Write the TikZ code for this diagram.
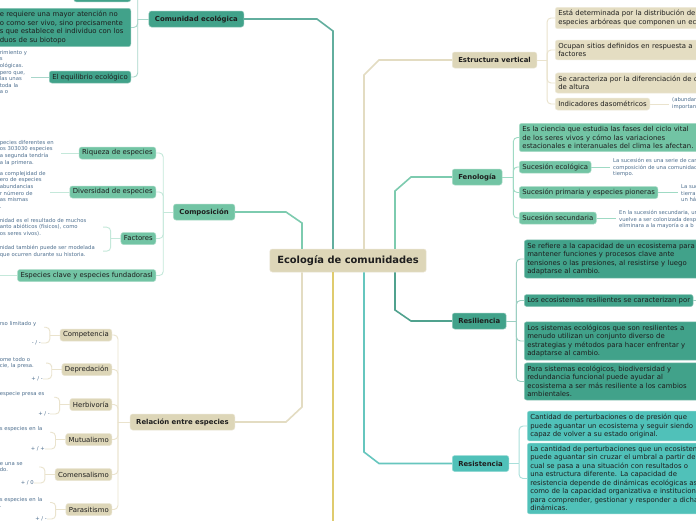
\documentclass[tikz,border=0pt]{standalone}
\usepackage{fontspec}
\setmainfont{DejaVu Sans}
\definecolor{beige}{HTML}{DDD6B8}
\definecolor{beigelt}{HTML}{E4DDC2}
\definecolor{tealdk}{HTML}{41A28A}
\definecolor{tealmd}{HTML}{72C4A4}
\definecolor{turq}{HTML}{50C1B9}
\definecolor{ink}{HTML}{1E1E1E}
\definecolor{noteink}{HTML}{4E6F8F}
\definecolor{lnbeige}{HTML}{E3DCC2}
\definecolor{lnteal}{HTML}{62AE9E}
\definecolor{lnmint}{HTML}{7DCBAF}
\definecolor{lndark}{HTML}{50A28E}
\definecolor{lnturq}{HTML}{66C6BE}
\definecolor{lnyellow}{HTML}{DFCB6E}
\definecolor{subteal}{HTML}{A8D6CA}
\definecolor{submint}{HTML}{C4E8DA}
\definecolor{subfen}{HTML}{9FDAC4}
\definecolor{subbeige}{HTML}{EAE3CD}
\definecolor{subdark}{HTML}{9CCFC2}
\definecolor{subturq}{HTML}{A9E0DB}

\begin{document}
\begin{tikzpicture}[x=1pt, y=-1pt,
    tone/.style={fill=#1, draw=#1!60!white, line width=0.5pt},
    box/.style={rounded corners=2.5pt, inner xsep=3pt, inner ysep=0pt, minimum height=12pt, text=ink, font=\fontsize{6.9}{8.5}\selectfont},
    topic/.style={box, inner xsep=6pt, minimum height=16pt, font=\fontsize{6.9}{8.5}\selectfont\bfseries},
    root/.style={topic, minimum height=23pt, inner xsep=7.5pt, font=\fontsize{9.9}{12}\selectfont\bfseries},
    para/.style={box, align=left, inner ysep=3pt, text width=#1},
    note/.style={inner sep=0pt, align=left, text=noteink, font=\fontsize{5.3}{6.6}\selectfont},
    rnote/.style={note, inner xsep=3pt},
    main/.style={line width=1.6pt},
    sub/.style={line width=0.9pt, rounded corners=4pt}]
    \useasboundingbox (0,0) rectangle (696,520);
    \fill[white] (0,0) rectangle (696,520);
    \clip (0,0) rectangle (696,520);

    \node[root, tone=beige] (cen) at (348,260.5) {Ecología de comunidades};

    \node[topic, tone=tealdk, anchor=east] (com) at (244,19) {Comunidad ecológica};
    \node[box, tone=tealdk, anchor=south east, minimum width=57pt] (comtop) at (131,2) {};
    \node[para=128pt, tone=tealdk, anchor=north east] (comdef) at (131,8) {e requiere una mayor atención no\\o como ser vivo, sino precisamente\\s que establece el individuo con los\\duos de su biotopo};
    \node[box, tone=tealdk, anchor=east] (equi) at (131,77) {El equilibrio ecológico};
    \node[note, anchor=north east, text width=31pt] (equin) at (31,50) {rimiento y\\s\\ológicas.\\pero que,\\las unas\\toda la\\a o};

    \node[topic, tone=tealmd, anchor=east] (comp) at (235,212) {Composición};
    \node[box, tone=tealmd, anchor=east] (riq) at (156,153) {Riqueza de especies};
    \node[note, anchor=north east, text width=61pt] (riqn) at (61,140) {pecies diferentes en\\os 303030 especies\\a segunda tendría\\a la primera.};
    \node[box, tone=tealmd, anchor=east] (div) at (156,192) {Diversidad de especies};
    \node[note, anchor=north east, text width=50pt] (divn) at (50,171) {a complejidad de\\ero de especies\\abundancias\\r número de\\as mismas\\.};
    \node[box, tone=tealmd, anchor=east] (fac) at (156,238.5) {Factores};
    \node[note, anchor=north east, text width=103pt] (facn1) at (103,218) {nidad es el resultado de muchos\\anto abióticos (físicos), como\\os seres vivos).};
    \node[note, anchor=north east, text width=103pt] (facn2) at (103,245) {nidad también puede ser modelada\\que ocurren durante su historia.};
    \node[box, tone=tealmd, anchor=east] (clave) at (156,275.5) {Especies clave y especies fundadorasl};
    \coordinate (claveend) at (-5,275.5);

    \node[topic, tone=beige, anchor=east] (rel) at (235,422) {Relación entre especies};
    \node[box, tone=beige, anchor=east] (compe) at (112,335) {Competencia};
    \node[note, anchor=north east, text width=44pt] (compen) at (44,321.5) {rso limitado y};
    \node[note, anchor=east] (compes) at (41,343) {- / -};
    \node[box, tone=beige, anchor=east] (depr) at (112,369.5) {Depredación};
    \node[note, anchor=north east, text width=46pt] (deprn) at (46,357) {ome todo o\\cie, la presa.};
    \node[note, anchor=east] (deprs) at (43,379) {+ / -};
    \node[box, tone=beige, anchor=east] (herb) at (112,404.5) {Herbivoría};
    \node[note, anchor=north east, text width=54pt] (herbn) at (54,391.5) {especie presa es};
    \node[note, anchor=east] (herbs) at (50,414) {+ / -};
    \node[box, tone=beige, anchor=east] (mutu) at (112,439.5) {Mutualismo};
    \node[note, anchor=north east, text width=50pt] (mutun) at (50,426.5) {s especies en la};
    \node[note, anchor=east] (mutus) at (45,449) {+ / +};
    \node[box, tone=beige, anchor=east] (come) at (112,474.5) {Comensalismo};
    \node[note, anchor=north east, text width=39pt] (comen) at (39,462) {e una se\\do.};
    \node[note, anchor=east] (comes) at (34,483) {+ / 0};
    \node[box, tone=beige, anchor=east] (para) at (112,509.5) {Parasitismo};
    \node[note, anchor=north east, text width=50pt] (paran) at (50,497) {s especies en la\\.};
    \node[note, anchor=east] (paras) at (47,519) {+ / -};

    \node[topic, tone=beige, anchor=west] (est) at (452,60) {Estructura vertical};
    \node[para=200pt, tone=beigelt, anchor=west] (est1) at (555,18) {Está determinada por la distribución de\\especies arbóreas que componen un ecosistema};
    \node[para=200pt, tone=beigelt, anchor=west] (est2) at (555,50) {Ocupan sitios definidos en respuesta a\\factores};
    \node[para=200pt, tone=beigelt, anchor=west] (est3) at (555,83) {Se caracteriza por la diferenciación de capas\\de altura};
    \node[box, tone=beigelt, anchor=west] (ind) at (555,104) {Indicadores dasométricos};
    \node[rnote, anchor=north west] (indn) at (669,97.5) {(abundancia\\importancia};

    \node[topic, tone=tealmd, anchor=west] (fen) at (452,177) {Fenología};
    \node[para=200pt, tone=tealmd, anchor=west] (fen1) at (519,137.5) {Es la ciencia que estudia las fases del ciclo vital\\de los seres vivos y cómo las variaciones\\estacionales e interanuales del clima les afectan.};
    \node[box, tone=tealmd, anchor=west] (suc) at (519,167) {Sucesión ecológica};
    \node[rnote, anchor=north west] (sucn) at (610,158) {La sucesión es una serie de cambios\\composición de una comunidad\\tiempo.};
    \node[box, tone=tealmd, anchor=west] (sucp) at (519,192.5) {Sucesión primaria y especies pioneras};
    \node[rnote, anchor=north west] (sucpn) at (678,184) {La sucesión\\tierra\\un hábitat};
    \node[box, tone=tealmd, anchor=west] (sucs) at (519,218) {Sucesión secundaria};
    \node[rnote, anchor=north west] (sucsn) at (616,210) {En la sucesión secundaria, un\\vuelve a ser colonizada después\\eliminara a la mayoría o a b};

    \node[topic, tone=tealdk, anchor=west] (res) at (452,321) {Resiliencia};
    \node[para=200pt, tone=tealdk, anchor=west] (res1) at (524,259) {Se refiere a la capacidad de un ecosistema para\\mantener funciones y procesos clave ante\\tensiones o las presiones, al resistirse y luego\\adaptarse al cambio.};
    \node[box, tone=tealdk, anchor=west] (res2) at (524,300.5) {Los ecosistemas resilientes se caracterizan por};
    \coordinate (res2end) at (705,300.5);
    \node[para=200pt, tone=tealdk, anchor=west] (res3) at (524,341) {Los sistemas ecológicos que son resilientes a\\menudo utilizan un conjunto diverso de\\estrategias y métodos para hacer enfrentar y\\adaptarse al cambio.};
    \node[para=200pt, tone=tealdk, anchor=west] (res4) at (524,381.5) {Para sistemas ecológicos, biodiversidad y\\redundancia funcional puede ayudar al\\ecosistema a ser más resiliente a los cambios\\ambientales.};

    \node[topic, tone=turq, anchor=west] (rst) at (452,463.5) {Resistencia};
    \node[para=200pt, tone=turq, anchor=west] (rst1) at (527,426) {Cantidad de perturbaciones o de presión que\\puede aguantar un ecosistema y seguir siendo\\capaz de volver a su estado original.};
    \node[para=200pt, tone=turq, anchor=west] (rst2) at (527,478.5) {La cantidad de perturbaciones que un ecosistema\\puede aguantar sin cruzar el umbral a partir del\\cual se pasa a una situación con resultados o\\una estructura diferente. La capacidad de\\resistencia depende de dinámicas ecológicas así\\como de la capacidad organizativa e institucional\\para comprender, gestionar y responder a dichas\\dinámicas.};

    \coordinate (down) at (333,530);

    \draw[main, lnteal] (com.east) -- (317,19) -- (333,31) -- ([xshift=-15pt]cen.north);
    \draw[main, lnbeige] (est.west) -- (379,60) -- (364,75) -- ([xshift=16pt]cen.north);
    \draw[main, lnmint] (fen.west) -- (411,177) -- (395,191) -- ([xshift=47pt]cen.north);
    \draw[main, lndark] (res.west) -- (411,321) -- (395,310) -- ([xshift=47pt]cen.south);
    \draw[main, lnturq] (rst.west) -- (379,463.5) -- (364,452) -- ([xshift=16pt]cen.south);
    \draw[main, lnmint] (comp.east) -- (286,212) -- (302,223) -- ([xshift=-46pt]cen.north);
    \draw[main, lnbeige] (rel.east) -- (286,422) -- (302,407) -- ([xshift=-46pt]cen.south);
    \draw[main, lnyellow] ([xshift=-15pt]cen.south) -- (down);

    \draw[sub, subteal] (com.west) -- ++(-11,0);
    \foreach \n in {comtop, comdef, equi}
        \draw[sub, subteal] ([xshift=-11pt]com.west) |- (\n.east);
    \draw[sub, subteal] (equi.west) -- (equin.east |- equi.west);

    \draw[sub, submint] (comp.west) -- ++(-10,0);
    \foreach \n in {riq, div, fac, clave}
        \draw[sub, submint] ([xshift=-10pt]comp.west) |- (\n.east);
    \draw[sub, submint] (riq.west) -- (riqn.east |- riq.west);
    \draw[sub, submint] (div.west) -- (divn.east |- div.west);
    \draw[sub, submint] (fac.west) -- ++(-10,0);
    \draw[sub, submint] (facn1.east) -| ([xshift=-10pt]fac.west) |- (facn2.east);
    \draw[sub, submint] (clave.west) -- (claveend);

    \draw[sub, subbeige] (rel.west) -- ++(-12,0);
    \foreach \n in {compe, depr, herb, mutu, come, para}
        \draw[sub, subbeige] ([xshift=-12pt]rel.west) |- (\n.east);
    \foreach \n/\d in {compe/-3pt, depr/0pt, herb/-3pt, mutu/-3pt, come/0pt, para/0pt} {
        \draw[sub, subbeige] (\n.west) -- ++(-10,0);
        \draw[sub, subbeige] ([yshift=\d]\n n.east) -| ([xshift=-10pt]\n.west) |- (\n s.east);
    }

    \draw[sub, subbeige] (est.east) -- ++(10,0);
    \foreach \n in {est1, est2, est3, ind}
        \draw[sub, subbeige] ([xshift=10pt]est.east) |- (\n.west);
    \draw[sub, subbeige] (ind.east) -- (indn.west |- ind.east);

    \draw[sub, subfen] (fen.east) -- ++(11,0);
    \foreach \n in {fen1, suc, sucp, sucs}
        \draw[sub, subfen] ([xshift=11pt]fen.east) |- (\n.west);
    \foreach \n in {suc, sucp, sucs}
        \draw[sub, subfen] (\n.east) -- (\n n.west |- \n.east);

    \draw[sub, subdark] (res.east) -- ++(10,0);
    \foreach \n in {res1, res2, res3, res4}
        \draw[sub, subdark] ([xshift=10pt]res.east) |- (\n.west);
    \draw[sub, subdark] (res2.east) -- (res2end);

    \draw[sub, subturq] (rst.east) -- ++(10,0);
    \foreach \n in {rst1, rst2}
        \draw[sub, subturq] ([xshift=10pt]rst.east) |- (\n.west);
\end{tikzpicture}
\end{document}
